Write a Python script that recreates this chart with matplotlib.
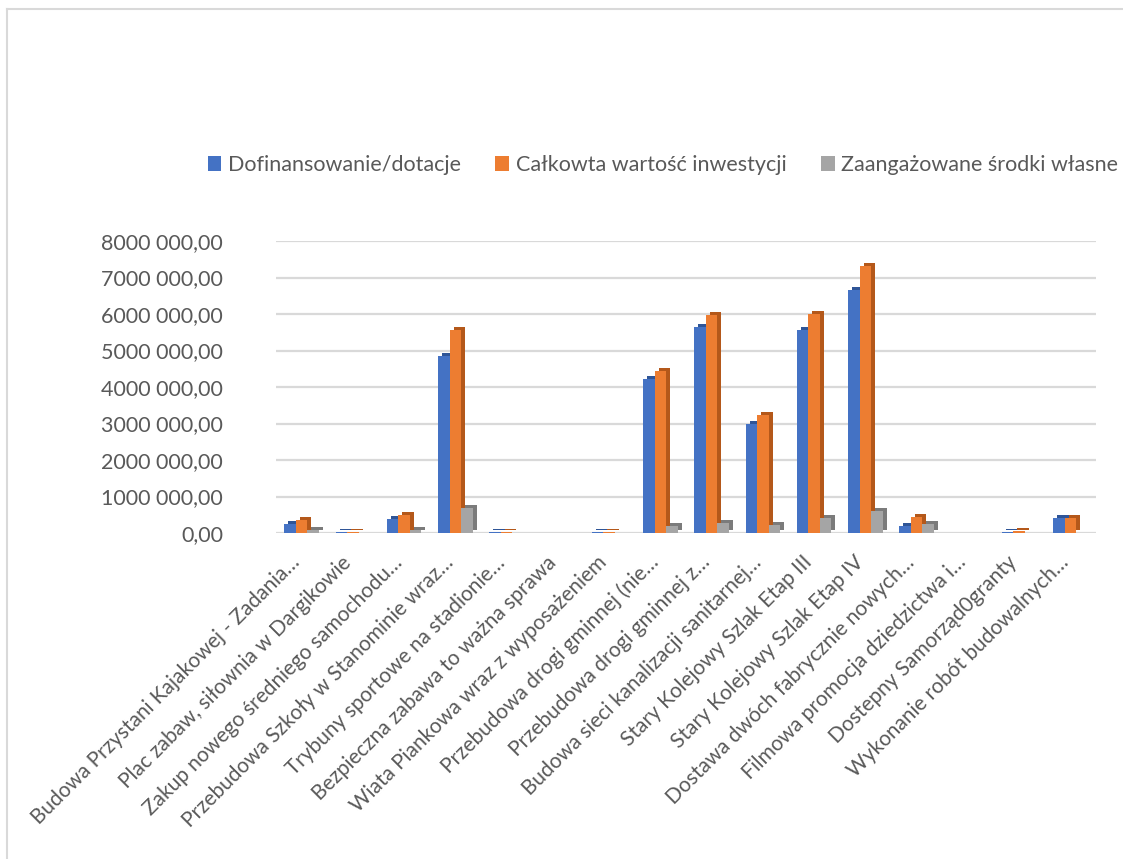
import matplotlib
matplotlib.use("Agg")
import matplotlib.pyplot as plt
import matplotlib.transforms as mtransforms
from matplotlib.patches import Patch
from matplotlib.lines import Line2D
import numpy as np

categories = [
    "Budowa Przystani Kajakowej - Zadania…",
    "Plac zabaw, siłownia w Dargikowie",
    "Zakup nowego średniego samochodu…",
    "Przebudowa Szkoły w Stanominie wraz…",
    "Trybuny sportowe na stadionie…",
    "Bezpieczna zabawa to ważna sprawa",
    "Wiata Piankowa wraz z wyposażeniem",
    "Przebudowa drogi gminnej (nie…",
    "Przebudowa drogi gminnej z…",
    "Budowa sieci kanalizacji sanitarnej…",
    "Stary Kolejowy Szlak Etap III",
    "Stary Kolejowy Szlak Etap IV",
    "Dostawa dwóch fabrycznie nowych…",
    "Filmowa promocja dziedzictwa i…",
    "Dostepny Samorząd0granty",
    "Wykonanie robót budowalnych…",
]
dofinansowanie = [260000, 30000, 380000, 4840000, 20000, 10000, 15000, 4220000,
                  5640000, 2990000, 5570000, 6660000, 180000, 8000, 40000, 410000]
calkowita = [360000, 40000, 480000, 5570000, 30000, 12000, 20000, 4450000,
             5960000, 3220000, 6000000, 7310000, 450000, 10000, 50000, 410000]
wlasne = [80000, 10000, 80000, 690000, 10000, 3000, 5000, 200000,
          280000, 230000, 420000, 610000, 260000, 2000, 10000, 3000]

series_names = ["Dofinansowanie/dotacje", "Całkowta wartość inwestycji",
                "Zaangażowane środki własne"]
yticks = [0, 1000000, 2000000, 3000000, 4000000, 5000000, 6000000, 7000000, 8000000]
ytick_labels = ["0,00", "1000 000,00", "2000 000,00", "3000 000,00", "4000 000,00",
                "5000 000,00", "6000 000,00", "7000 000,00", "8000 000,00"]

front_colors = ["#4472C4", "#ED7D31", "#A5A5A5"]
side_colors = ["#2F5597", "#B4581A", "#7B7B7B"]
text_color = "#595959"

plt.rcParams['font.family'] = ['Lato', 'DejaVu Sans']

W, H = 1123, 859
fig = plt.figure(figsize=(W / 100, H / 100), dpi=100)
fig.patch.set_facecolor("white")

ax = fig.add_axes([276 / W, 1 - 533 / H, 820 / W, 292 / H])
ax.set_xlim(-0.5, len(categories) - 0.5)
ax.set_ylim(0, 8000000)

x = np.arange(len(categories))
bw = 0.225
offsets = [-bw, 0, bw]
data = [dofinansowanie, calkowita, wlasne]

depth = mtransforms.ScaledTranslation(4 / 100, 3 / 100, fig.dpi_scale_trans)
for vals, off, fc, sc in zip(data, offsets, front_colors, side_colors):
    ax.bar(x + off, vals, width=bw, color=sc, edgecolor="none",
           transform=ax.transData + depth, zorder=2)
    ax.bar(x + off, vals, width=bw, color=fc, edgecolor="none", zorder=3)

ax.set_yticks(yticks)
ax.set_yticklabels(ytick_labels, fontsize=15.5, color=text_color)
ax.yaxis.grid(True, color="#D9D9D9", linewidth=1.6)
ax.set_axisbelow(True)
ax.tick_params(axis="y", length=0, pad=38)
ax.tick_params(axis="x", length=0, pad=19)
for s in ax.spines.values():
    s.set_visible(False)

ax.set_xticks(x)
ax.set_xticklabels(categories, rotation=45, ha="right", va="center",
                   rotation_mode="anchor", fontsize=15, color=text_color)
shift = mtransforms.ScaledTranslation(-5 / 100, 0, fig.dpi_scale_trans)
for lbl in ax.get_xticklabels():
    lbl.set_transform(lbl.get_transform() + shift)

handles = [Patch(facecolor=c, edgecolor="none") for c in front_colors]
fig.legend(handles, series_names, loc="center", bbox_to_anchor=(663 / W, 1 - 165 / H),
           ncol=3, frameon=False, fontsize=15.5, labelcolor=text_color,
           handlelength=0.65, handleheight=0.65, handletextpad=0.3, columnspacing=1.6)

fig.add_artist(Line2D([7 / W, 7 / W], [0, 1 - 9 / H], transform=fig.transFigure,
                      color="#D9D9D9", linewidth=1.5))
fig.add_artist(Line2D([7 / W, 1], [1 - 9 / H, 1 - 9 / H], transform=fig.transFigure,
                      color="#D9D9D9", linewidth=1.5))

fig.savefig("out.png", dpi=100)
